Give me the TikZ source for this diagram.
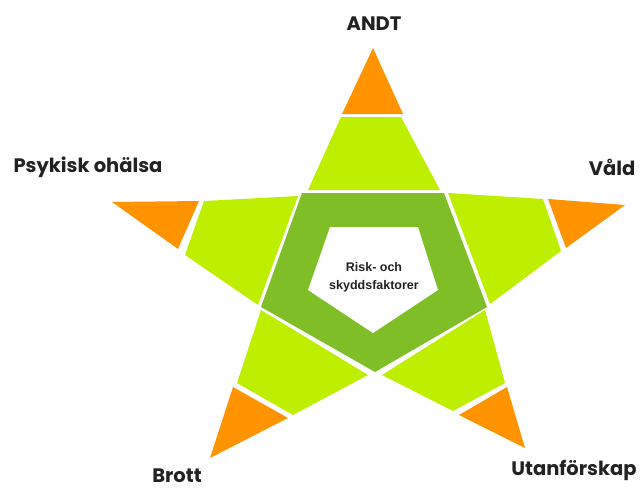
\documentclass[tikz,border=0pt]{standalone}
\usepackage{fontspec}
\setmainfont{Poppins}
\newfontfamily\arial{Liberation Sans}
\definecolor{orng}{RGB}{255,148,0}
\definecolor{lgreen}{RGB}{190,238,0}
\definecolor{dgreen}{RGB}{128,190,40}
\definecolor{txt}{RGB}{34,34,34}
\begin{document}
\begin{tikzpicture}[x=1pt,y=-1pt,
  lab/.style={font=\fontsize{19.5}{22}\selectfont\bfseries, text=txt, inner sep=0pt},
  ctr/.style={font=\arial\fontsize{12.5}{18}\selectfont\bfseries, text=txt, align=center, inner sep=0pt},
  tip/.style={fill=orng},
  arm/.style={fill=lgreen}]
\useasboundingbox (0,0) rectangle (644,490);
% pentagon ring
\fill[dgreen] (302,193) -- (444,193) -- (487,307) -- (375,372) -- (261,307) -- cycle;
\fill[white] (330,227) -- (418,227) -- (438,290) -- (373,333) -- (308,290) -- cycle;
% top
\fill[tip] (373,48) -- (403,114) -- (342,114) -- cycle;
\fill[arm] (341,117) -- (401,117) -- (440,190) -- (308,190) -- cycle;
% left
\fill[tip] (112,202) -- (199,201) -- (178,249) -- cycle;
\fill[arm] (204,201) -- (298,196) -- (258,305) -- (185,255) -- cycle;
% right
\fill[arm] (448,193) -- (543,199) -- (561,251) -- (490,304) -- cycle;
\fill[tip] (548,199) -- (625,205) -- (566,248) -- cycle;
% bottom left
\fill[arm] (261,310) -- (368,375) -- (293,415) -- (237,383) -- cycle;
\fill[tip] (233,387) -- (288,418) -- (210,458) -- cycle;
% bottom right
\fill[arm] (485,310) -- (505,383) -- (453,411) -- (382,375) -- cycle;
\fill[tip] (507,387) -- (525,448) -- (459,415) -- cycle;
% labels
\node[lab] (andt) at (374,24) {ANDT};
\node[lab] (psyk) at (88,167) {Psykisk ohälsa};
\node[lab] (vald) at (612,167) {Våld};
\node[lab] (brott) at (177,476) {Brott};
\node[lab] (utan) at (574,470) {Utanförskap};
\node[ctr] (risk) at (374,277) {Risk- och\\skyddsfaktorer};
\end{tikzpicture}
\end{document}
